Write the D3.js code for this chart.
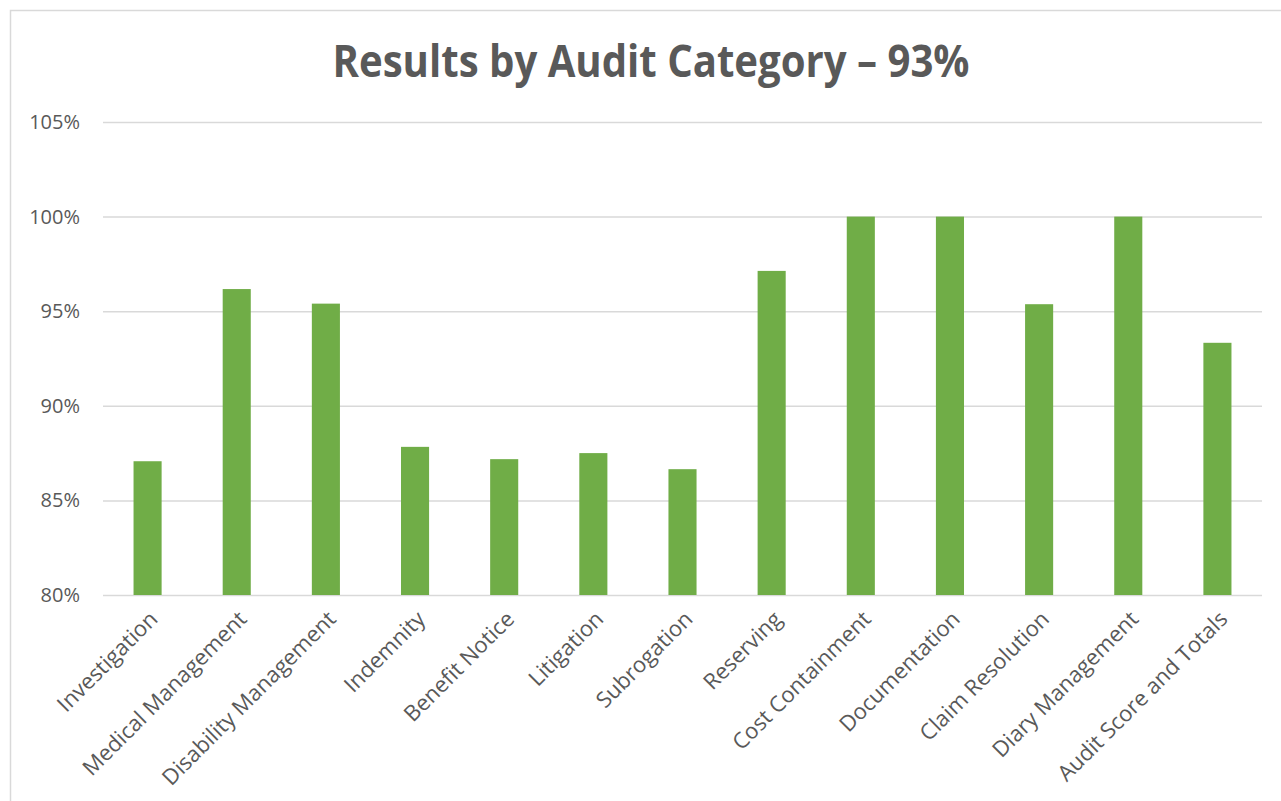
<!DOCTYPE html>
<html>
<head>
<meta charset="utf-8">
<script src="https://cdn.jsdelivr.net/npm/d3@7"></script>
<style>
  html, body { margin: 0; padding: 0; background: #fff; }
  svg { display: block; }
</style>
</head>
<body>
<script>
// Audit results per category (percent)
const categories = [
  "Investigation", "Medical Management", "Disability Management", "Indemnity",
  "Benefit Notice", "Litigation", "Subrogation", "Reserving", "Cost Containment",
  "Documentation", "Claim Resolution", "Diary Management", "Audit Score and Totals"
];
const scores = [87.07, 96.17, 95.4, 87.83, 87.18, 87.5, 86.65, 97.13, 100, 100, 95.37, 100, 93.33];
const yTicks = [80, 85, 90, 95, 100, 105];
const chartTitle = "Results by Audit Category \u2013 93%";

const W = 1281, H = 801;
const plot = { left: 103, right: 1262, top: 122, bottom: 595 };

const svg = d3.select("body").append("svg")
  .attr("width", W).attr("height", H);

// chart frame
svg.append("rect")
  .attr("x", 10.5).attr("y", 10.5)
  .attr("width", W + 20).attr("height", H + 20)
  .attr("fill", "#fff").attr("stroke", "#d9d9d9").attr("stroke-width", 1.5);

const pad = 0.685;
const x = d3.scaleBand()
  .domain(categories)
  .range([plot.left, plot.right])
  .paddingInner(pad)
  .paddingOuter(pad / 2);

const y = d3.scaleLinear()
  .domain([80, 105])
  .range([plot.bottom, plot.top]);

// gridlines and y labels
const yAxis = d3.axisLeft(y)
  .tickValues(yTicks)
  .tickSize(-(plot.right - plot.left))
  .tickPadding(23)
  .tickFormat(d => d + "%");

const gy = svg.append("g")
  .attr("transform", `translate(${plot.left},0)`)
  .call(yAxis);
gy.select(".domain").remove();
gy.selectAll(".tick line")
  .attr("stroke", "#d9d9d9").attr("stroke-width", 1.5);
gy.selectAll(".tick text")
  .attr("fill", "#595959")
  .style("font-family", "'Open Sans', 'Noto Sans', sans-serif")
  .style("font-size", "20px");

// bars
svg.append("g").selectAll("rect")
  .data(categories)
  .join("rect")
  .attr("x", d => x(d))
  .attr("width", x.bandwidth())
  .attr("y", (d, i) => y(scores[i]))
  .attr("height", (d, i) => y(80) - y(scores[i]))
  .attr("fill", "#70ad47");

// category labels, rotated
const xAxis = d3.axisBottom(x).tickSize(0).tickPadding(0);
const gx = svg.append("g")
  .attr("transform", `translate(0,${plot.bottom})`)
  .call(xAxis);
gx.select(".domain").remove();
gx.selectAll(".tick text")
  .attr("fill", "#595959")
  .style("font-family", "'Open Sans', 'Noto Sans', sans-serif")
  .style("font-size", "22px")
  .attr("text-anchor", "end")
  .attr("dy", "0.35em")
  .attr("transform", "translate(6,20) rotate(-45)");

// title
svg.append("text")
  .attr("x", 651).attr("y", 77)
  .attr("text-anchor", "middle")
  .attr("fill", "#595959")
  .style("font-family", "'Open Sans', 'Noto Sans', sans-serif")
  .style("font-weight", 700)
  .style("font-size", "44px")
  .attr("textLength", 637)
  .attr("lengthAdjust", "spacingAndGlyphs")
  .text(chartTitle);
</script>
</body>
</html>
